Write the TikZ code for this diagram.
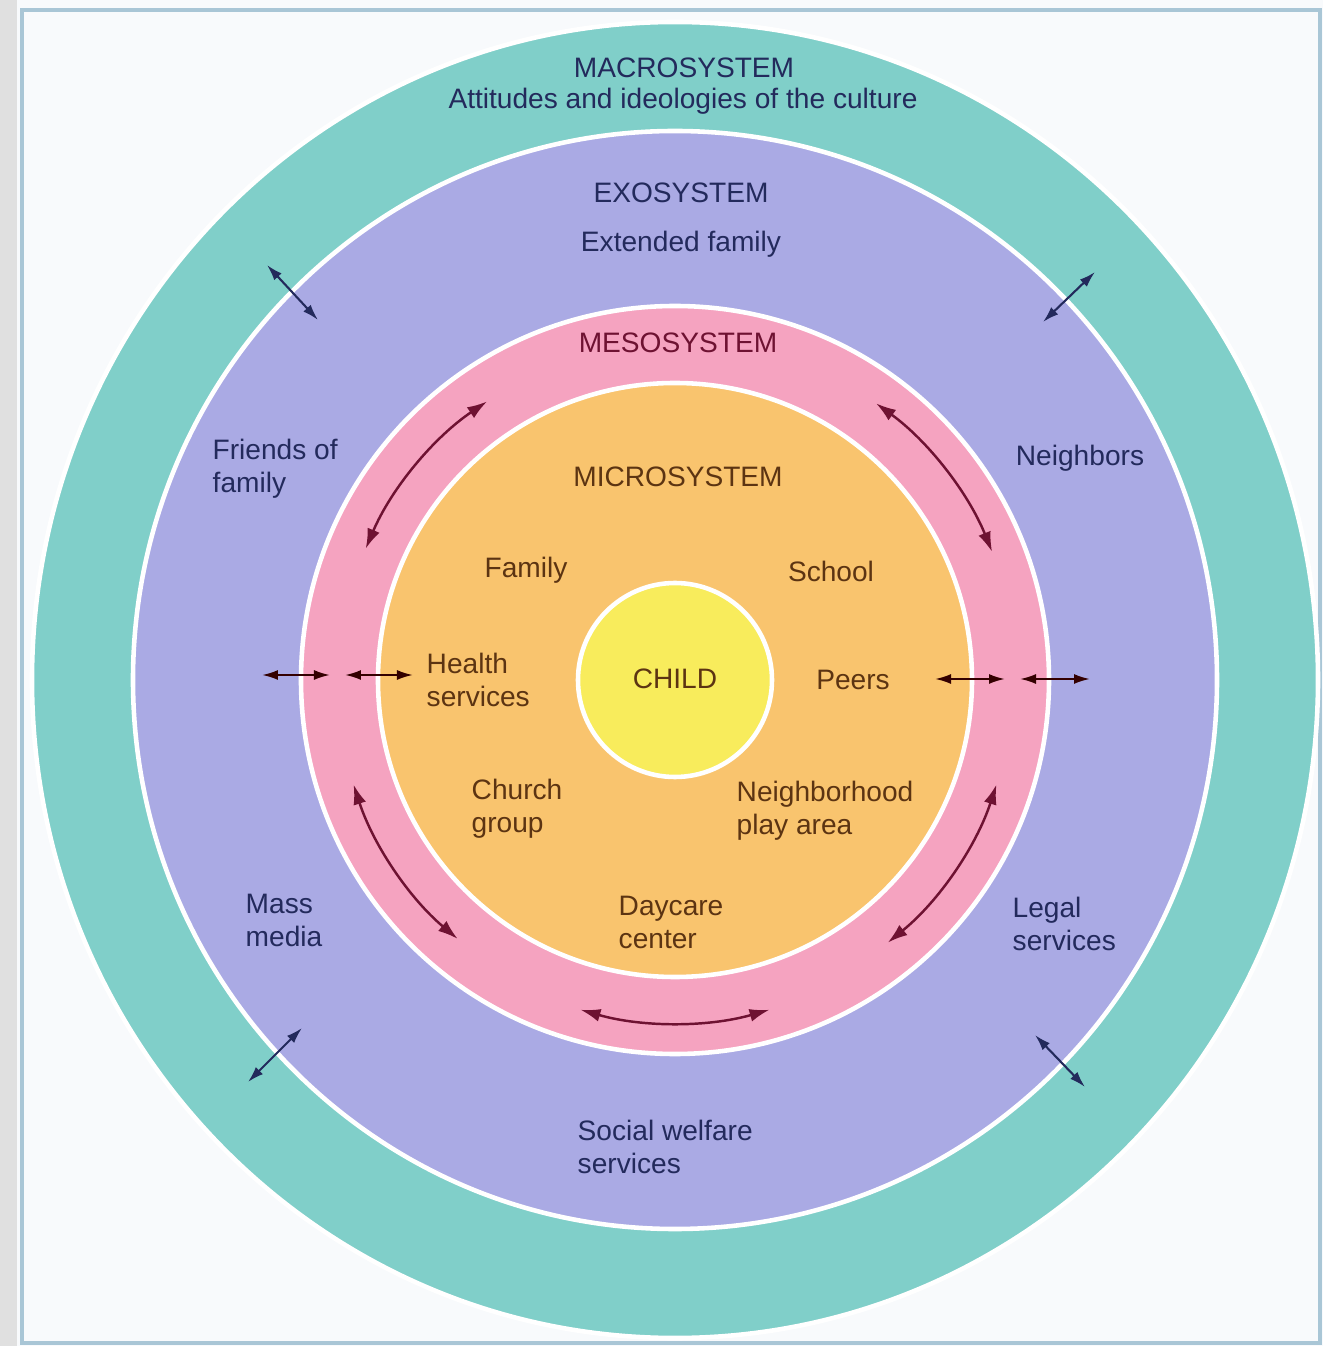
\documentclass[tikz,border=0pt]{standalone}
\usepackage{fontspec}
\setmainfont{Liberation Sans}
\usetikzlibrary{arrows.meta}

\definecolor{macrocol}{HTML}{80CFC9}
\definecolor{exocol}{HTML}{AAAAE4}
\definecolor{mesocol}{HTML}{F5A3C0}
\definecolor{microcol}{HTML}{F9C46E}
\definecolor{childcol}{HTML}{F8EC5C}
\definecolor{navytext}{HTML}{232A5C}
\definecolor{maroontext}{HTML}{6E1232}
\definecolor{browntext}{HTML}{5C3412}
\definecolor{framecol}{HTML}{A9C6D6}
\definecolor{papercol}{HTML}{F8FAFC}

\tikzset{
	ring/.style={draw=white, line width=1.3pt},
	lbl/.style={font=\fontsize{8}{9.4}\selectfont, inner sep=0pt},
	outertext/.style={lbl, text=navytext},
	innertext/.style={lbl, text=browntext},
	twoline/.style={align=left, anchor=west},
	crossarrow/.style={{Latex[length=1.6mm, width=1mm]}-{Latex[length=1.6mm, width=1mm]}, line width=0.6pt},
	arcarrow/.style={{Latex[length=2mm, width=1.3mm]}-{Latex[length=2mm, width=1.3mm]}, line width=0.7pt, maroontext},
}

\begin{document}
\begin{tikzpicture}
	\useasboundingbox (-6.75, -6.66) rectangle (6.48, 6.80);
	% paper and frame
	\fill[papercol] (-6.75, -6.66) rectangle (6.48, 6.80);
	\fill[black!12] (-6.75, -6.66) rectangle (-6.58, 6.80);
	\draw[framecol, line width=1pt] (-6.53, -6.63) rectangle (6.45, 6.70);

	% the five systems
	\draw[ring, fill=macrocol] (0, 0) ellipse [x radius=6.43, y radius=6.58];
	\draw[ring, fill=exocol] (0, 0) ellipse [x radius=5.42, y radius=5.49];
	\draw[ring, fill=mesocol] (0, 0) circle [radius=3.74];
	\draw[ring, fill=microcol] (0, 0) circle [radius=2.97];
	\draw[ring, fill=childcol] (0, 0) circle [radius=0.97];

	% macrosystem
	\node[outertext] (macro) at (0.09, 6.12) {MACROSYSTEM};
	\node[outertext] (culture) at (0.08, 5.79) {Attitudes and ideologies of the culture};

	% exosystem
	\node[outertext] (exo) at (0.06, 4.87) {EXOSYSTEM};
	\node[outertext] (extended) at (0.06, 4.36) {Extended family};
	\node[outertext, twoline] (friends) at (-4.63, 2.11) {Friends of\\family};
	\node[outertext] (neighbors) at (4.05, 2.22) {Neighbors};
	\node[outertext, twoline] (massmedia) at (-4.30, -2.40) {Mass\\media};
	\node[outertext, twoline] (legal) at (3.37, -2.44) {Legal\\services};
	\node[outertext, twoline] (welfare) at (-0.98, -4.67) {Social welfare\\services};

	% mesosystem
	\node[lbl, text=maroontext] (meso) at (0.03, 3.37) {MESOSYSTEM};

	% microsystem
	\node[innertext] (micro) at (0.03, 2.03) {MICROSYSTEM};
	\node[innertext] (family) at (-1.49, 1.10) {Family};
	\node[innertext] (school) at (1.56, 1.09) {School};
	\node[innertext, twoline] (health) at (-2.49, 0) {Health\\services};
	\node[innertext] (peers) at (1.78, 0) {Peers};
	\node[innertext, twoline] (church) at (-2.04, -1.29) {Church\\group};
	\node[innertext, twoline] (playarea) at (0.61, -1.31) {Neighborhood\\play area};
	\node[innertext, twoline] (daycare) at (-0.57, -2.42) {Daycare\\center};
	\node[innertext] (child) at (0, 0.01) {CHILD};

	% arrows across the exosystem border
	\draw[crossarrow, navytext] (-4.08, 4.15) -- (-3.57, 3.60);
	\draw[crossarrow, navytext] (4.20, 4.08) -- (3.68, 3.58);
	\draw[crossarrow, navytext] (-4.27, -4.02) -- (-3.73, -3.48);
	\draw[crossarrow, navytext] (3.60, -3.55) -- (4.10, -4.07);

	% arrows across the mesosystem
	\draw[crossarrow, black!80!red] (-4.13, 0.05) -- (-3.45, 0.05);
	\draw[crossarrow, black!80!red] (-3.30, 0.05) -- (-2.62, 0.05);
	\draw[crossarrow, black!80!red] (2.60, 0.01) -- (3.30, 0.01);
	\draw[crossarrow, black!80!red] (3.45, 0.01) -- (4.15, 0.01);

	% arrows round the mesosystem
	\draw[arcarrow] (124:3.36) arc [start angle=124, end angle=157, radius=3.36];
	\draw[arcarrow] (54:3.42) arc [start angle=54, end angle=22, radius=3.42];
	\draw[arcarrow] (198:3.38) arc [start angle=198, end angle=230, radius=3.38];
	\draw[arcarrow] (-18:3.38) arc [start angle=-18, end angle=-51, radius=3.38];
	\draw[arcarrow] (254:3.43) arc [start angle=254, end angle=286, radius=3.43];
\end{tikzpicture}
\end{document}
